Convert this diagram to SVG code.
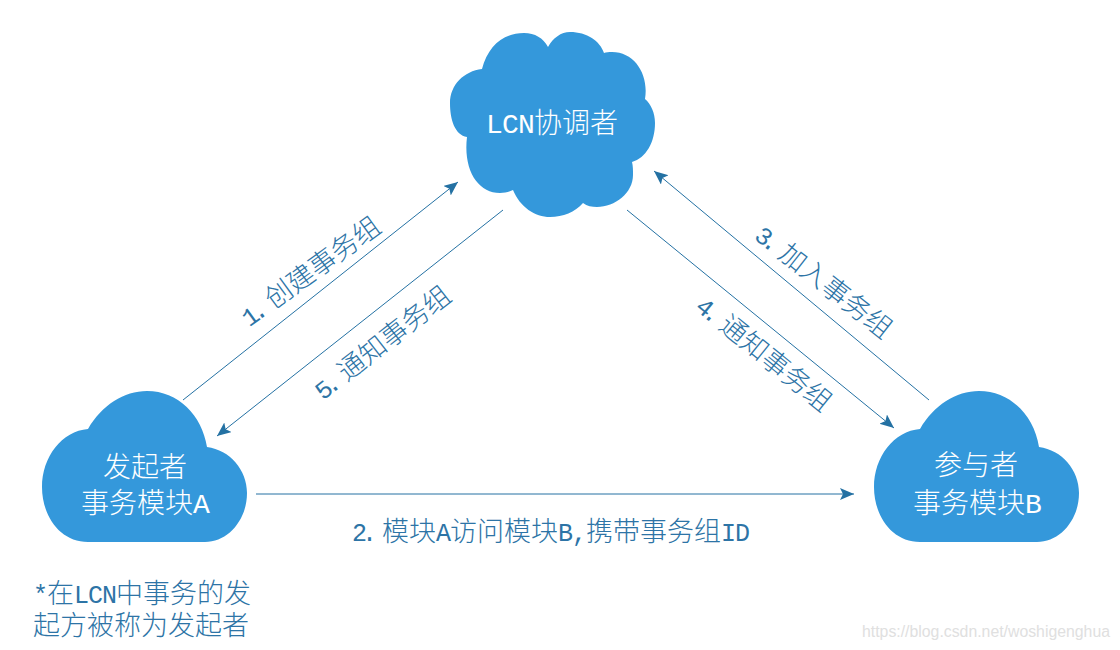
<svg xmlns="http://www.w3.org/2000/svg" width="1120" height="650" viewBox="0 0 1120 650">
<style>
.c{fill:#3498db}
.w{fill:#fff;font-size:28px;text-anchor:middle}
.t{fill:#2d74a6;font-size:27px}
.w,.t{font-family:"Noto Sans CJK SC",sans-serif;font-weight:300}
.m{font-family:"Liberation Mono",monospace;font-size:25px;letter-spacing:-1px}
.n{letter-spacing:-5px}
.w .m{font-size:28px;letter-spacing:-.8px}
.l{stroke:#2471a3;stroke-width:1;fill:none;marker-end:url(#a)}
</style>
<defs>
<marker id="a" markerUnits="userSpaceOnUse" markerWidth="16" markerHeight="14" refX="14" refY="6" orient="auto"><path d="M0 0L14 6L0 12L3 6Z" fill="#2471a3"/></marker>
<path id="s" d="M88 542C60 542 42 516 42 487C42 457 62 431 88 429C102 405 124 391 147 391C178 391 202 415 207 447C230 450 247 470 247 493C247 520 228 542 205 542Z"/>
</defs>
<rect width="1120" height="650" fill="#fff"/>
<g id="connectors">
<line class="l" x1="183" y1="400" x2="458" y2="182"/>
<line class="l" x1="503" y1="210" x2="217" y2="436"/>
<line class="l" x1="929" y1="400" x2="654" y2="171"/>
<line class="l" x1="627" y1="210" x2="894" y2="428"/>
<line class="l" x1="256" y1="494" x2="854" y2="494"/>
</g>
<g id="coordinator">
<path class="c" d="M548 47C553 38 561 32 570 32C587 32 600 41 604 53C606 52 609 52 612 52C635 52 649 75 645 99C651 104 655 113 655 123C655 142 646 158 632 162C633 166 633 170 633 175C633 193 615 207 597 207C592 207 587 206 583 203C575 212 563 217 550 217C535 217 520 207 513 190C509 192 505 193 500 193C478 193 463 170 467 137C455 135 450 120 450 103C450 85 464 71 482 69C488 46 503 33 524 33C535 33 543 38 548 47Z"/>
<text class="w" x="552" y="133"><tspan class="m">LCN</tspan>协调者</text>
</g>
<g id="moduleA">
<use href="#s" class="c"/>
<text class="w" x="145" y="477">发起者</text>
<text class="w" x="145" y="513">事务模块<tspan class="m">A</tspan></text>
</g>
<g id="moduleB">
<use href="#s" class="c" x="832"/>
<text class="w" x="976" y="475">参与者</text>
<text class="w" x="977" y="513">事务模块<tspan class="m">B</tspan></text>
</g>
<g id="labels">
<text class="t" text-anchor="middle" transform="translate(316 279) rotate(-36)"><tspan class="m n">1. </tspan>创建事务组</text>
<text class="t" text-anchor="middle" transform="translate(388 350) rotate(-38)"><tspan class="m n">5. </tspan>通知事务组</text>
<text class="t" text-anchor="middle" transform="translate(818 289) rotate(38)"><tspan class="m n">3. </tspan>加入事务组</text>
<text class="t" text-anchor="middle" transform="translate(758 361) rotate(39)"><tspan class="m n">4. </tspan>通知事务组</text>
<text class="t" x="352" y="541"><tspan class="m n">2. </tspan>模块<tspan class="m">A</tspan>访问模块<tspan class="m">B,</tspan>携带事务组<tspan class="m">ID</tspan></text>
<text class="t" x="33" y="603"><tspan class="m">*</tspan>在<tspan class="m">LCN</tspan>中事务的发</text>
<text class="t" x="33" y="635">起方被称为发起者</text>
</g>
<text x="862" y="637" font-family="Liberation Sans,sans-serif" font-size="16" textLength="248" lengthAdjust="spacingAndGlyphs" fill="#e0e0e0">https://blog.csdn.net/woshigenghua</text>
</svg>
